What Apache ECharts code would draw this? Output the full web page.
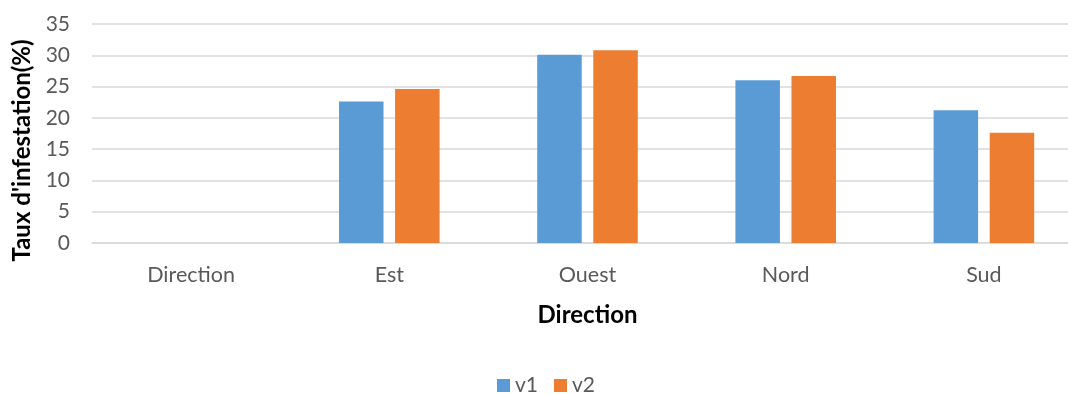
<!DOCTYPE html>
<html>
<head>
<meta charset="utf-8">
<script src="https://cdn.jsdelivr.net/npm/echarts@6/dist/echarts.min.js"></script>
<style>
  html, body { margin: 0; padding: 0; background: #ffffff; }
  #chart { width: 1068px; height: 394px; }
</style>
</head>
<body>
<div id="chart"></div>
<script>
// Infestation rate by direction, two readings (v1, v2)
const categories = ['Direction', 'Est', 'Ouest', 'Nord', 'Sud'];
const v1 = [null, 22.6, 30.1, 26.0, 21.2];
const v2 = [null, 24.6, 30.8, 26.7, 17.6];
const yTicks = { min: 0, max: 35, interval: 5 };

const FONT = 'Lato, "Open Sans", sans-serif';
const GREY = '#595959';

const chart = echarts.init(document.getElementById('chart'), null, { renderer: 'canvas' });

chart.setOption({
  animation: false,
  backgroundColor: '#ffffff',
  textStyle: { fontFamily: FONT },
  // the last category runs a little past the right edge of the canvas
  grid: { left: 92, top: 24, right: -15, bottom: 151, containLabel: false, outerBoundsMode: 'none' },
  legend: {
    data: ['v1', 'v2'],
    left: 497,
    top: 375,
    padding: 0,
    itemWidth: 13,
    itemHeight: 13,
    itemGap: 16,
    icon: 'rect',
    textStyle: { color: GREY, fontSize: 21, fontFamily: FONT, padding: [0, 0, 0, 0] }
  },
  xAxis: {
    type: 'category',
    data: categories,
    name: 'Direction',
    nameLocation: 'middle',
    nameGap: 60,
    nameTextStyle: { color: '#000000', fontWeight: 'bold', fontSize: 24, fontFamily: FONT },
    axisLine: { show: true, lineStyle: { color: '#d9d9d9', width: 1.5 } },
    axisTick: { show: false },
    axisLabel: { color: GREY, fontSize: 21.5, margin: 21, fontFamily: FONT },
    splitLine: { show: false }
  },
  yAxis: {
    type: 'value',
    min: yTicks.min,
    max: yTicks.max,
    interval: yTicks.interval,
    name: "Taux d'infestation(%)",
    nameLocation: 'middle',
    nameGap: 56,
    nameTextStyle: { color: '#000000', fontWeight: 'bold', fontSize: 24, fontFamily: FONT, padding: [0, 34, 0, 0] },
    axisLine: { show: false },
    axisTick: { show: false },
    axisLabel: { color: GREY, fontSize: 21, margin: 22, fontFamily: FONT },
    splitLine: { show: true, lineStyle: { color: '#d9d9d9', width: 1.5 } }
  },
  series: [
    {
      name: 'v1',
      type: 'bar',
      data: v1,
      barWidth: 44.5,
      barGap: '26%',
      itemStyle: { color: '#5b9bd5' }
    },
    {
      name: 'v2',
      type: 'bar',
      data: v2,
      barWidth: 44.5,
      itemStyle: { color: '#ed7d31' }
    }
  ]
});
</script>
</body>
</html>
